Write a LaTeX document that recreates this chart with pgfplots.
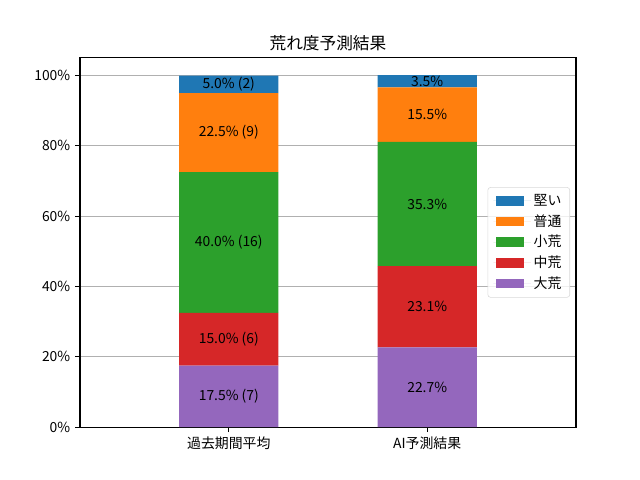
\documentclass[border=0pt]{standalone}
\usepackage{pgfplots}
\pgfplotsset{compat=1.18}
\usepackage{fontspec}
\setmainfont{Noto Sans CJK JP}
\definecolor{cblue}{HTML}{1F77B4}
\definecolor{corange}{HTML}{FF7F0E}
\definecolor{cgreen}{HTML}{2CA02C}
\definecolor{cred}{HTML}{D62728}
\definecolor{cpurple}{HTML}{9467BD}
\definecolor{cgrid}{HTML}{B0B0B0}
\begin{document}
\fontsize{10}{12}\selectfont
\begin{tikzpicture}
\path[use as bounding box] (0,0) rectangle (460.8pt,345.6pt);
\pgfplotsset{
  common/.style={
    at={(57.6pt,38.016pt)}, anchor=south west,
    scale only axis, width=357.12pt, height=266.112pt,
    xmin=-0.75, xmax=1.75, ymin=0, ymax=105.1,
  }
}
\begin{axis}[common,
  ybar stacked, bar width=0.5,
  xtick={0,1}, xticklabels={過去期間平均,AI予測結果},
  ytick={0,20,40,60,80,100},
  yticklabels={0\%,20\%,40\%,60\%,80\%,100\%},
  ymajorgrids, grid style={color=cgrid, line width=0.8pt},
  axis line style={line width=0.8pt},
  tick style={line width=0.8pt, black},
  major tick length=3.5pt, tick align=outside, tick pos=left,
  ticklabel style={font=\fontsize{10}{12}\selectfont},
  title={荒れ度予測結果},
  title style={font=\fontsize{12}{14}\selectfont, yshift=-5pt},
  legend style={at={(0.988,0.5)}, anchor=east, draw=black!15, rounded corners=2pt,
    fill=white, fill opacity=0.8, text opacity=1, font=\fontsize{10}{12}\selectfont,
    row sep=1pt, inner xsep=4pt, inner ysep=3pt},
  legend cell align=left,
  reverse legend,
  legend image code/.code={\fill[#1, fill opacity=1, sharp corners] (0pt,-3.5pt) rectangle (20pt,3.5pt);
    \path (-2pt,0pt) -- (25pt,0pt);},
]
\addplot[fill=cpurple, draw=none] coordinates {(0,17.5) (1,22.7)};
\addlegendentry{大荒}
\addplot[fill=cred, draw=none] coordinates {(0,15.0) (1,23.1)};
\addlegendentry{中荒}
\addplot[fill=cgreen, draw=none] coordinates {(0,40.0) (1,35.3)};
\addlegendentry{小荒}
\addplot[fill=corange, draw=none] coordinates {(0,22.5) (1,15.5)};
\addlegendentry{普通}
\addplot[fill=cblue, draw=none] coordinates {(0,5.0) (1,3.5)};
\addlegendentry{堅い}
\end{axis}
\begin{axis}[common, hide axis]
\addplot[only marks, mark=none, nodes near coords, point meta=explicit symbolic,
  every node near coord/.append style={anchor=center, text=black, font=\fontsize{10}{12}\selectfont}]
coordinates {
(0,8.75) [17.5\% (7)]
(0,25) [15.0\% (6)]
(0,52.5) [40.0\% (16)]
(0,83.75) [22.5\% (9)]
(0,97.5) [5.0\% (2)]
(1,11.35) [22.7\%]
(1,34.25) [23.1\%]
(1,63.45) [35.3\%]
(1,88.85) [15.5\%]
(1,98.35) [3.5\%]
};
\end{axis}
\end{tikzpicture}
\end{document}
